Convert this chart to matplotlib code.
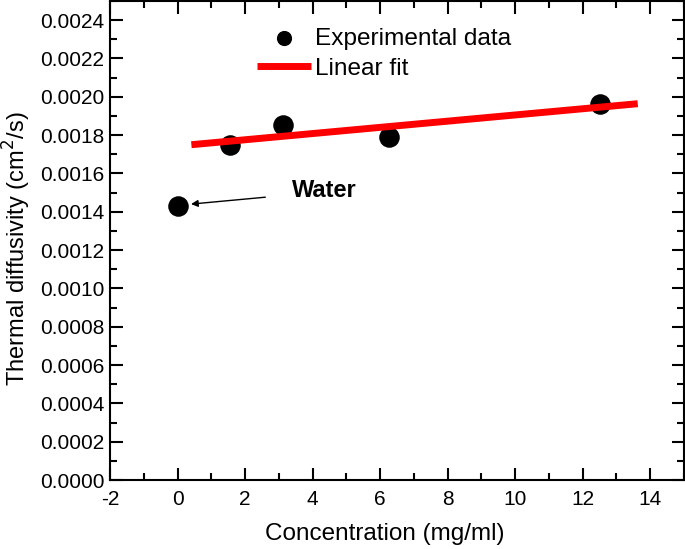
import matplotlib
matplotlib.use("Agg")
import matplotlib.pyplot as plt
from matplotlib.ticker import MultipleLocator, FormatStrFormatter

plt.rcParams["font.family"] = ["Liberation Sans", "DejaVu Sans"]
plt.rcParams["axes.unicode_minus"] = False

# ---- data ----
concentration = [0.0, 1.5625, 3.125, 6.25, 12.5]             # mg/ml
diffusivity = [0.00143, 0.00175, 0.001855, 0.00179, 0.001965]  # cm^2/s

fit_x = [0.41, 13.63]
fit_y = [0.00175, 0.001964]

water_label = "Water"
water_text_pos = (3.4, 0.00151)
water_arrow_from = (2.6, 0.001476)
water_arrow_to = (0.4, 0.00144)

# ---- figure ----
fig = plt.figure(figsize=(6.85, 5.49), dpi=100)
ax = fig.add_axes([110 / 685, 1 - 480 / 549, 574 / 685, 479 / 549])

ax.plot(fit_x, fit_y, color="#ff0000", linewidth=5, solid_capstyle="butt",
        label="Linear fit", zorder=3)
ax.scatter(concentration, diffusivity, s=190, color="black",
           label="Experimental data", zorder=2)

ax.annotate("", xy=water_arrow_to, xytext=water_arrow_from,
            arrowprops=dict(arrowstyle="-|>", color="black", lw=1,
                            mutation_scale=10, shrinkA=0, shrinkB=0))
ax.text(*water_text_pos, water_label, fontsize=17, fontweight="bold",
        ha="left", va="center")

ax.set_xlim(-2, 15)
ax.set_ylim(0, 0.0025)
ax.xaxis.set_major_locator(MultipleLocator(2))
ax.xaxis.set_minor_locator(MultipleLocator(1))
ax.yaxis.set_major_locator(MultipleLocator(0.0002))
ax.yaxis.set_minor_locator(MultipleLocator(0.0001))
ax.yaxis.set_major_formatter(FormatStrFormatter("%.4f"))

ax.tick_params(which="both", direction="in", top=True, right=True,
               width=1.5, labelsize=15)
ax.tick_params(which="major", length=9)
ax.tick_params(which="minor", length=5)
ax.tick_params(axis="x", which="major", pad=7)
ax.tick_params(axis="y", which="major", pad=4)
for sp in ax.spines.values():
    sp.set_linewidth(1.5)

ax.set_xlabel("Concentration (mg/ml)", fontsize=17.5, labelpad=10.5)
ax.set_ylabel(r"Thermal diffusivity (cm$^2$/s)", fontsize=17, labelpad=5)
ax.xaxis.label.set_x(0.479)
ax.yaxis.label.set_y(0.482)

handles, labels = ax.get_legend_handles_labels()
order = [1, 0]
ax.legend([handles[i] for i in order], [labels[i] for i in order],
          loc="upper left", bbox_to_anchor=(0.239, 0.965), frameon=False,
          fontsize=17.6, handlelength=2.22, handletextpad=0.16,
          labelspacing=0.32, borderaxespad=0, markerscale=0.72)

fig.savefig("out.png", dpi=100)
